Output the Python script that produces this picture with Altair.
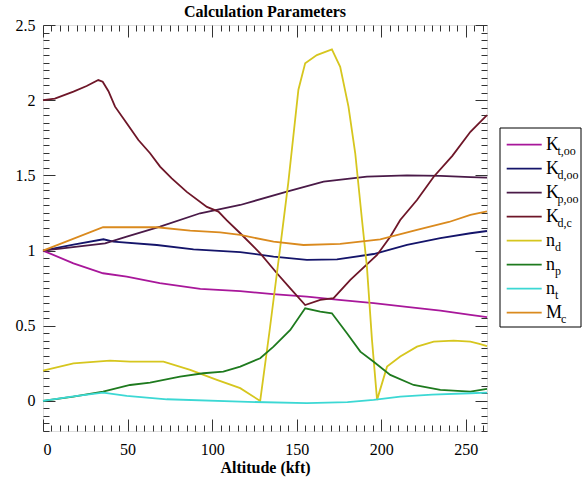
import altair as alt
import pandas as pd

# ---------------- data ----------------
SERIES = ["Kt,oo", "Kd,oo", "Kp,oo", "Kd,c", "nd", "np", "nt", "Mc"]
MAIN = ["K", "K", "K", "K", "n", "n", "n", "M"]
SUB = ["t,oo", "d,oo", "p,oo", "d,c", "d", "p", "t", "c"]
COLORS = ["#A8179A", "#14146A", "#4A1A48", "#6E1628", "#D6C61E", "#1E7A1E", "#3CD8D4", "#DA8A1E"]

KT_ALT = [0, 18, 35.5, 49.5, 69, 93, 116.6, 136, 156, 175, 195.5, 215, 235, 252.7, 262.5]
KT_VAL = [1.0, 0.915, 0.849, 0.827, 0.783, 0.745, 0.73, 0.71, 0.694, 0.672, 0.65, 0.625, 0.6, 0.572, 0.558]

KD_ALT = [0, 18, 35.7, 41.6, 67.3, 89, 116.6, 136.3, 156, 173.8, 195.5, 215.2, 234.9, 252.7, 262.5]
KD_VAL = [1.0, 1.04, 1.075, 1.059, 1.037, 1.008, 0.99, 0.96, 0.938, 0.942, 0.977, 1.037, 1.082, 1.115, 1.13]

KP_ALT = [0, 36.7, 49.5, 69.2, 92.9, 116.6, 144.2, 165.9, 191.5, 215.2, 235, 252.7, 262.5]
KP_VAL = [1.0, 1.048, 1.092, 1.159, 1.248, 1.303, 1.392, 1.458, 1.491, 1.5, 1.497, 1.488, 1.485]

KDC_ALT = [0, 7, 18, 25.8, 32.7, 35.3, 38.7, 42.6, 49.5, 56.4, 63.3, 69.2, 76.1, 85, 96.9,
           103.7, 108.7, 116.6, 128.4, 138.3, 146.2, 155, 163.9, 171.8, 181.7, 197.5, 205.3,
           211.2, 221.1, 231, 242, 252.7, 262.5]
KDC_VAL = [2.0, 2.01, 2.057, 2.094, 2.134, 2.123, 2.06, 1.957, 1.846, 1.735, 1.647, 1.558, 1.48,
           1.39, 1.29, 1.259, 1.2, 1.115, 0.982, 0.849, 0.749, 0.638, 0.672, 0.683, 0.805, 0.971,
           1.092, 1.203, 1.336, 1.491, 1.63, 1.79, 1.9]

ND_ALT = [0, 18, 39.6, 51.5, 71.2, 87, 102.8, 116.6, 128.4, 134, 140, 145, 151, 155, 161.9,
          170.8, 175.7, 180.6, 184.6, 188.6, 191.5, 194.5, 197.5, 203.4, 211.2, 221.1, 231,
          242.8, 252.7, 258, 262.5]
ND_VAL = [0.202, 0.25, 0.268, 0.261, 0.261, 0.206, 0.14, 0.085, 0.0, 0.47, 1.0, 1.45, 2.07,
          2.245, 2.30, 2.338, 2.222, 1.957, 1.647, 1.203, 0.893, 0.406, 0.007, 0.228, 0.295,
          0.361, 0.394, 0.401, 0.394, 0.38, 0.365]

NP_ALT = [0, 18, 35.5, 51.5, 63.3, 81, 94.8, 106.6, 116.6, 128.4, 136.3, 146.2, 155, 163.9,
          170.8, 179.7, 187.6, 195.5, 205.3, 219.1, 234.9, 252.7, 262.5]
NP_VAL = [0.0, 0.029, 0.062, 0.106, 0.122, 0.162, 0.184, 0.195, 0.228, 0.284, 0.361, 0.472,
          0.616, 0.594, 0.583, 0.45, 0.328, 0.261, 0.173, 0.106, 0.073, 0.062, 0.08]

NT_ALT = [0, 18, 35.5, 49.5, 73.2, 116.6, 156, 180, 195.5, 211.2, 230, 252.7, 262.5]
NT_VAL = [0.0, 0.03, 0.055, 0.033, 0.011, -0.005, -0.015, -0.008, 0.007, 0.029, 0.042, 0.051, 0.055]

MC_ALT = [0, 35.5, 67.3, 87, 104.7, 116.6, 136.3, 154, 175.7, 199.4, 221.1, 240, 252.7, 262.5]
MC_VAL = [1.0, 1.155, 1.155, 1.132, 1.121, 1.104, 1.059, 1.037, 1.044, 1.075, 1.137, 1.19, 1.237, 1.26]

X_DOMAIN = [0, 262.5]
Y_DOMAIN = [-0.2, 2.5]
X_LABELS = [0, 50, 100, 150, 200, 250]
Y_LABELS = [0, 0.5, 1, 1.5, 2, 2.5]
X_TICKS = [5 * i for i in range(53)]
Y_TICKS = [round(-0.2 + 0.05 * i, 2) for i in range(55)]

# ---------------- build table ----------------
pairs = [(KT_ALT, KT_VAL), (KD_ALT, KD_VAL), (KP_ALT, KP_VAL), (KDC_ALT, KDC_VAL),
         (ND_ALT, ND_VAL), (NP_ALT, NP_VAL), (NT_ALT, NT_VAL), (MC_ALT, MC_VAL)]
rows = []
for name, (a, v) in zip(SERIES, pairs):
    for xa, yv in zip(a, v):
        rows.append({"series": name, "alt": xa, "val": yv})
df = pd.DataFrame(rows)
leg_df = pd.DataFrame({"series": SERIES, "main": MAIN, "sub": SUB, "i": list(range(len(SERIES)))})

W, H = 444, 406
FONT = "Liberation Serif"

xscale = alt.Scale(domain=X_DOMAIN, nice=False, zero=False)
yscale = alt.Scale(domain=Y_DOMAIN, nice=False, zero=False)
cscale = alt.Scale(domain=SERIES, range=COLORS)

lines = alt.Chart(df).mark_line(strokeWidth=1.8).encode(
    x=alt.X("alt:Q", scale=xscale, axis=alt.Axis(
        orient="bottom", values=X_LABELS, ticks=False, domain=False, grid=False,
        labelPadding=10, format="d", labelFont=FONT, labelFontSize=16, labelColor="black",
        title="Altitude (kft)", titleFont=FONT, titleFontSize=16, titleFontWeight="bold",
        titleColor="black", titlePadding=2)),
    y=alt.Y("val:Q", scale=yscale, axis=alt.Axis(
        orient="left", values=Y_LABELS, ticks=False, domain=False, grid=False,
        labelPadding=8, format="~g", labelFont=FONT, labelFontSize=16, labelColor="black",
        title=None)),
    color=alt.Color("series:N", scale=cscale, legend=None),
)

xcond = {"condition": {"test": "datum.value % 50 === 0", "value": 12}, "value": 6}
ycond = {"condition": {"test": "abs(round(datum.value * 100)) % 50 === 0", "value": 12}, "value": 6}


def tick_axis(orient, vals, cond, off):
    return alt.Axis(orient=orient, values=vals, labels=False, domain=False, grid=False,
                    title=None, ticks=True, tickColor="#333333", tickWidth=1,
                    tickSize=cond, offset=off)


dummy = pd.DataFrame({"alt": [0.0], "val": [0.0]})
ticks_a = alt.Chart(dummy).mark_point(opacity=0).encode(
    x=alt.X("alt:Q", scale=xscale, axis=tick_axis("top", X_TICKS, xcond, -H)),
    y=alt.Y("val:Q", scale=yscale, axis=tick_axis("right", Y_TICKS, ycond, -W)),
)
ticks_b = alt.Chart(dummy).mark_point(opacity=0).encode(
    x=alt.X("alt:Q", scale=xscale, axis=tick_axis("bottom", X_TICKS, xcond, -H)),
    y=alt.Y("val:Q", scale=yscale, axis=tick_axis("left", Y_TICKS, ycond, -W)),
)

# ---------------- legend ----------------
legy = alt.Scale(domain=[0, len(SERIES) - 1], range=[119.7, 287.7], nice=False, zero=False)
box = alt.Chart(dummy).mark_rect(fill="white", stroke="black", strokeWidth=1).encode(
    x=alt.value(457), x2=alt.value(538), y=alt.value(103), y2=alt.value(302))
leg_lines = alt.Chart(leg_df).mark_rule(strokeWidth=1.8).encode(
    x=alt.value(463.7), x2=alt.value(498.7),
    y=alt.Y("i:Q", scale=legy, axis=None),
    color=alt.Color("series:N", scale=cscale, legend=None))
leg_main = alt.Chart(leg_df).mark_text(
    align="left", baseline="alphabetic", dy=5, font=FONT, fontSize=18, color="black").encode(
    x=alt.value(503), y=alt.Y("i:Q", scale=legy, axis=None), text="main:N")


def sub_layer(letter, xpos):
    return alt.Chart(leg_df).transform_filter(f"datum.main === '{letter}'").mark_text(
        align="left", baseline="alphabetic", dy=10, font=FONT, fontSize=12, color="black").encode(
        x=alt.value(xpos), y=alt.Y("i:Q", scale=legy, axis=None), text="sub:N")


chart = alt.layer(
    lines, ticks_a, ticks_b, box, leg_lines, leg_main,
    sub_layer("K", 514.5), sub_layer("n", 512), sub_layer("M", 518),
).resolve_scale(y="independent").resolve_axis(x="independent", y="independent").properties(
    width=W, height=H,
    title=alt.Title("Calculation Parameters", font=FONT, fontSize=16, fontWeight="bold",
                    anchor="middle", frame="group", offset=4, dy=7, color="black"),
    autosize=alt.AutoSizeParams(type="none"),
    padding={"left": 43, "top": 25, "right": 96, "bottom": 50},
).configure_view(stroke="#222222", strokeWidth=1).configure(background="white")

chart.save("out.html", embed_options={"renderer": "svg", "actions": False})
